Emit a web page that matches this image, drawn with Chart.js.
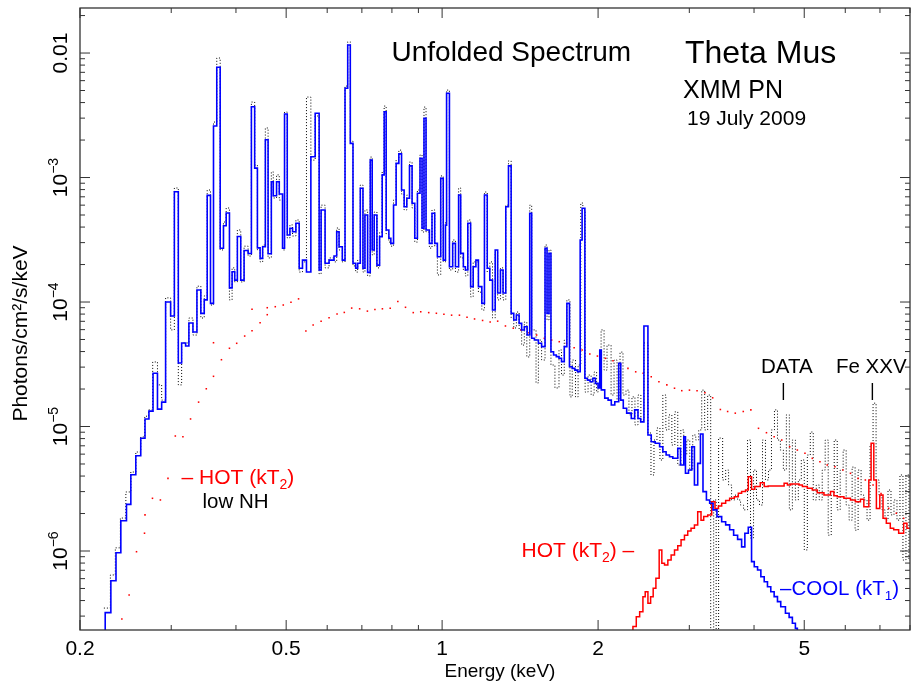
<!DOCTYPE html>
<html>
<head>
<meta charset="utf-8">
<script src="https://cdn.jsdelivr.net/npm/chart.js@4.4.1/dist/chart.umd.min.js"></script>
<style>html,body{margin:0;padding:0;background:#fff}canvas{display:block}</style>
</head>
<body>
<canvas id="spec" width="914" height="684"></canvas>
<script>
// ===================== DATA =====================
// total model (blue histogram, turns into the COOL component above ~2.5 keV): bin left edge (keV) / flux
const blueE=[0.2237,0.2237,0.2294,0.2347,0.2398,0.2459,0.2507,0.2563,0.2620,0.2670,
  0.2717,0.2767,0.2822,0.2875,0.2926,0.2992,0.3042,0.3096,0.3142,0.3198,
  0.3245,0.3304,0.3363,0.3422,0.3474,0.3520,0.3572,0.3620,0.3673,0.3729,
  0.3784,0.3830,0.3886,0.3932,0.3978,0.4025,0.4086,0.4147,0.4222,0.4284,
  0.4347,0.4400,0.4453,0.4504,0.4558,0.4614,0.4681,0.4722,0.4791,0.4849,
  0.4920,0.4964,0.5024,0.5084,0.5144,0.5221,0.5298,0.5376,0.5472,0.5580,
  0.5688,0.5789,0.5840,0.5944,0.6050,0.6185,0.6259,0.6325,0.6417,0.6495,
  0.6573,0.6649,0.6729,0.6810,0.6871,0.6951,0.7034,0.7096,0.7181,0.7265,
  0.7329,0.7395,0.7484,0.7574,0.7661,0.7729,0.7798,0.7892,0.7962,0.8058,
  0.8151,0.8250,0.8350,0.8446,0.8548,0.8650,0.8750,0.8855,0.8960,0.9064,
  0.9146,0.9226,0.9310,0.9450,0.9560,0.9676,0.9792,0.9938,1.005,1.015,
  1.020,1.033,1.048,1.061,1.076,1.086,1.099,1.109,1.121,1.135,
  1.148,1.162,1.175,1.193,1.207,1.222,1.236,1.251,1.266,1.280,
  1.296,1.311,1.327,1.343,1.359,1.375,1.391,1.408,1.424,1.441,
  1.459,1.476,1.489,1.507,1.534,1.556,1.580,1.594,1.608,1.622,
  1.641,1.661,1.681,1.700,1.721,1.741,1.761,1.783,1.804,1.825,
  1.847,1.863,1.886,1.907,1.930,1.954,1.976,2.000,2.015,2.029,
  2.060,2.091,2.121,2.154,2.192,2.212,2.237,2.271,2.318,2.353,
  2.388,2.417,2.452,2.496,2.533,2.578,2.629,2.667,2.706,2.747,
  2.788,2.850,2.885,2.927,2.949,2.989,3.033,3.069,3.114,3.152,
  3.188,3.237,3.284,3.333,3.392,3.464,3.526,3.589,3.653,3.718,
  3.785,3.840,3.899,3.956,4.004,4.063,4.123,4.185,4.246,4.309,
  4.374,4.439,4.504,4.599,4.675,4.743,4.807,4.849,4.914];
const blueF=[1.9e-7,3.2e-7,5.77e-7,9.69e-7,1.75e-6,2.37e-6,4.10e-6,5.83e-6,8.04e-6,1.15e-5,
  1.33e-5,2.68e-5,1.38e-5,1.57e-5,1.0e-4,7.72e-5,7.69e-4,3.24e-5,4.69e-5,4.43e-5,
  6.78e-5,5.74e-5,1.25e-4,8.11e-5,1.04e-4,7.19e-4,9.76e-5,2.59e-3,7.68e-3,2.70e-4,
  4.10e-4,5.19e-4,1.30e-4,1.75e-4,1.50e-4,3.36e-4,1.50e-4,2.59e-4,2.45e-4,3.70e-3,
  1.19e-3,2.72e-4,2.24e-4,2.78e-4,2.01e-3,2.44e-4,9.25e-4,7.14e-4,9.25e-4,7.37e-4,
  2.70e-4,3.24e-3,3.45e-4,3.91e-4,3.67e-4,4.29e-4,1.87e-4,2.17e-4,1.74e-4,1.47e-3,
  3.28e-3,1.81e-4,5.48e-4,2.05e-4,2.17e-4,2.34e-4,3.67e-4,2.78e-4,2.17e-4,5.21e-3,
  1.16e-2,1.88e-3,2.05e-4,1.87e-4,2.05e-4,8.19e-4,1.87e-4,5.00e-4,1.73e-4,1.38e-3,
  2.62e-4,5.00e-4,1.98e-4,3.35e-4,1.05e-3,3.38e-3,3.79e-4,3.25e-4,2.96e-4,6.01e-4,
  1.30e-3,1.55e-3,7.94e-4,5.83e-4,6.81e-4,1.24e-3,6.21e-4,3.25e-4,7.47e-4,1.43e-3,
  3.91e-4,2.99e-3,3.79e-4,2.96e-4,5.16e-4,2.96e-4,2.31e-4,9.85e-4,2.17e-4,4.15e-4,
  4.75e-3,1.92e-4,2.96e-4,1.92e-4,7.23e-4,2.46e-4,1.92e-4,1.81e-4,4.29e-4,1.33e-4,
  1.92e-4,2.17e-4,1.33e-4,9.76e-5,7.23e-4,1.87e-4,1.50e-4,8.62e-5,2.62e-4,1.18e-4,
  1.81e-4,1.18e-4,5.83e-4,1.24e-3,8.11e-5,7.17e-5,7.86e-5,6.74e-5,5.96e-5,6.33e-5,
  5.43e-5,5.16e-4,5.11e-5,4.95e-5,4.66e-5,4.38e-5,2.70e-4,8.11e-5,2.46e-4,3.99e-5,
  3.75e-5,3.64e-5,3.53e-5,3.32e-5,4.38e-5,9.76e-5,3.02e-5,2.93e-5,2.84e-5,2.76e-5,
  3.15e-4,5.66e-4,2.44e-5,2.36e-5,2.29e-5,2.44e-5,2.22e-5,2.04e-5,4.12e-5,1.97e-5,
  1.69e-5,1.63e-5,1.49e-5,1.58e-5,3.22e-5,1.63e-5,1.40e-5,1.28e-5,1.16e-5,1.36e-5,
  1.16e-5,1.09e-5,6.42e-5,8.55e-6,7.55e-6,7.33e-6,6.88e-6,6.27e-6,5.90e-6,5.72e-6,
  5.56e-6,6.68e-6,4.91e-6,8.28e-6,4.21e-6,4.47e-6,6.88e-6,3.39e-6,5.06e-6,8.71e-6,
  3.00e-6,2.57e-6,2.42e-6,2.14e-6,1.89e-6,1.72e-6,1.62e-6,1.48e-6,1.34e-6,1.24e-6,
  1.08e-6,1.39e-6,1.55e-6,8.21e-7,7.48e-7,7.04e-7,6.22e-7,5.67e-7,5.17e-7,4.71e-7,
  4.30e-7,3.92e-7,3.57e-7,3.16e-7,2.93e-7,2.63e-7,2.39e-7,1.9e-7,1.9e-7];

// unfolded data (black dotted histogram)
const dataE=[0.2224,0.2289,0.2340,0.2393,0.2452,0.2507,0.2563,0.2620,0.2667,0.2713,
  0.2763,0.2822,0.2875,0.2926,0.2992,0.3042,0.3096,0.3142,0.3198,0.3245,
  0.3304,0.3363,0.3422,0.3474,0.3520,0.3572,0.3620,0.3673,0.3729,0.3784,
  0.3830,0.3886,0.3932,0.3978,0.4025,0.4086,0.4147,0.4222,0.4284,0.4347,
  0.4400,0.4453,0.4504,0.4558,0.4614,0.4681,0.4722,0.4791,0.4849,0.4920,
  0.4964,0.5024,0.5084,0.5144,0.5221,0.5298,0.5376,0.5472,0.5580,0.5688,
  0.5789,0.5840,0.5944,0.6050,0.6185,0.6259,0.6325,0.6417,0.6495,0.6573,
  0.6649,0.6729,0.6810,0.6871,0.6951,0.7034,0.7096,0.7181,0.7265,0.7329,
  0.7395,0.7484,0.7574,0.7661,0.7729,0.7798,0.7892,0.7962,0.8058,0.8151,
  0.8250,0.8350,0.8446,0.8548,0.8650,0.8750,0.8855,0.8960,0.9064,0.9146,
  0.9226,0.9310,0.9450,0.9560,0.9676,0.9792,0.9938,1.005,1.015,1.020,
  1.033,1.048,1.061,1.076,1.086,1.099,1.109,1.121,1.135,1.148,
  1.162,1.175,1.193,1.207,1.222,1.236,1.251,1.266,1.280,1.296,
  1.311,1.327,1.343,1.359,1.375,1.391,1.408,1.424,1.441,1.457,
  1.476,1.489,1.518,1.534,1.556,1.580,1.594,1.608,1.622,1.651,
  1.681,1.700,1.721,1.741,1.765,1.783,1.809,1.830,1.852,1.869,
  1.888,1.913,1.939,1.965,1.987,2.000,2.027,2.054,2.081,2.119,
  2.147,2.176,2.205,2.234,2.264,2.294,2.325,2.356,2.388,2.419,
  2.452,2.496,2.530,2.564,2.598,2.633,2.667,2.703,2.740,2.776,
  2.813,2.850,2.889,2.927,2.966,3.006,3.046,3.087,3.128,3.170,
  3.212,3.255,3.299,3.343,3.380,3.417,3.479,3.526,3.572,3.620,
  3.668,3.718,3.767,3.818,3.886,3.938,3.991,4.044,4.098,4.153,
  4.208,4.265,4.322,4.380,4.439,4.497,4.557,4.618,4.680,4.743,
  4.807,4.870,4.935,5.001,5.069,5.136,5.204,5.274,5.344,5.416,
  5.488,5.562,5.637,5.712,5.789,5.866,5.944,6.024,6.104,6.186,
  6.268,6.352,6.437,6.523,6.610,6.699,6.789,6.880,6.972,7.065,
  7.159,7.255,7.352,7.450,7.550,7.651,7.753,7.857,7.962,8.034];
const dataF=[3.48e-7,6.42e-7,1.06e-6,1.84e-6,2.98e-6,4.31e-6,6.24e-6,8.24e-6,1.21e-5,1.36e-5,
  3.30e-5,2.16e-5,1.63e-5,1.08e-4,5.97e-5,8.24e-4,2.16e-5,4.69e-5,4.69e-5,7.44e-5,
  5.43e-5,1.34e-4,7.44e-5,1.12e-4,7.94e-4,9.46e-5,2.79e-3,9.12e-3,2.62e-4,4.39e-4,
  5.69e-4,1.04e-4,1.88e-4,1.45e-4,3.79e-4,1.45e-4,2.81e-4,2.34e-4,4.04e-3,1.26e-3,
  2.62e-4,2.10e-4,2.87e-4,2.50e-3,2.26e-4,1.11e-3,6.85e-4,1.05e-3,6.59e-4,2.62e-4,
  3.36e-3,3.27e-4,4.16e-4,3.39e-4,4.56e-4,1.74e-4,2.10e-4,4.43e-3,1.38e-3,3.12e-3,
  1.68e-4,6.00e-4,1.88e-4,2.26e-4,2.10e-4,3.93e-4,2.62e-4,2.10e-4,5.43e-3,1.23e-2,
  1.96e-3,1.95e-4,1.74e-4,2.17e-4,8.71e-4,1.74e-4,5.49e-4,1.62e-4,1.46e-3,2.39e-4,
  5.28e-4,1.88e-4,3.65e-4,1.11e-3,3.75e-3,3.52e-4,3.03e-4,2.81e-4,6.59e-4,1.38e-3,
  1.66e-3,7.37e-4,5.49e-4,7.23e-4,1.33e-3,5.69e-4,3.03e-4,7.94e-4,1.52e-3,3.65e-4,
  3.68e-3,3.65e-4,2.71e-4,5.49e-4,2.81e-4,1.65e-4,1.03e-3,2.10e-4,4.39e-4,5.04e-3,
  1.81e-4,3.15e-4,1.74e-4,8.24e-4,2.26e-4,1.81e-4,1.62e-4,4.56e-4,1.10e-4,2.10e-4,
  2.10e-4,1.20e-4,8.62e-5,7.65e-4,1.74e-4,2.10e-4,7.44e-5,2.52e-4,1.04e-4,1.88e-4,
  1.04e-4,6.00e-4,1.36e-3,7.44e-5,6.19e-5,8.31e-5,5.97e-5,4.51e-5,6.90e-5,3.62e-5,
  6.00e-4,5.97e-5,2.24e-5,4.95e-5,3.42e-5,2.87e-4,7.17e-5,2.62e-4,3.12e-5,2.04e-5,
  4.12e-5,2.59e-5,4.95e-5,1.04e-4,1.73e-5,3.42e-5,1.73e-5,3.12e-5,6.24e-4,5.49e-4,
  1.89e-5,2.59e-5,1.79e-5,2.74e-5,1.89e-5,2.16e-5,5.97e-5,2.84e-5,4.51e-5,1.79e-5,
  3.42e-5,1.63e-5,3.96e-5,1.79e-5,1.96e-5,1.24e-5,1.73e-5,1.03e-5,1.79e-5,1.13e-5,
  4.69e-5,8.87e-6,4.08e-6,7.79e-6,9.73e-6,5.38e-6,1.79e-5,9.39e-6,1.24e-5,7.10e-6,
  1.31e-5,4.91e-6,9.39e-6,5.90e-6,7.79e-6,4.47e-6,8.55e-6,7.79e-6,9.39e-6,1.96e-5,
  9.39e-6,1.79e-5,1.9e-7,2.57e-6,1.9e-7,8.08e-6,3.72e-6,4.47e-6,3.39e-6,2.57e-6,
  2.81e-6,2.57e-6,2.34e-6,2.14e-6,7.79e-6,1.27e-6,4.47e-6,2.57e-6,2.34e-6,7.79e-6,
  3.72e-6,4.47e-6,9.39e-6,1.36e-5,7.79e-6,6.47e-6,4.47e-6,1.24e-5,2.14e-6,7.79e-6,
  2.57e-6,3.72e-6,5.38e-6,1.02e-6,5.90e-6,9.03e-6,2.57e-6,3.39e-6,2.57e-6,4.47e-6,
  7.79e-6,1.34e-6,2.81e-6,7.79e-6,2.14e-6,4.47e-6,6.47e-6,2.34e-6,1.77e-6,4.72e-6,
  1.47e-6,4.47e-6,2.81e-6,2.57e-6,1.77e-6,7.10e-6,1.54e-5,3.72e-6,2.81e-6,2.14e-6,
  1.77e-6,3.09e-6,1.95e-6,2.57e-6,1.77e-6,4.08e-6,8.46e-7,4.08e-6,8.46e-7,8.46e-7];

// HOT (kT2) component, solid red histogram
const hotE=[2.335,2.335,2.370,2.406,2.441,2.466,2.496,2.526,2.555,2.586,
  2.624,2.655,2.687,2.727,2.767,2.809,2.850,2.892,2.936,2.979,
  3.023,3.069,3.114,3.160,3.198,3.256,3.314,3.363,3.414,3.464,
  3.526,3.589,3.664,3.730,3.785,3.852,3.899,3.956,4.014,4.112,
  4.185,4.259,4.572,4.640,4.707,4.886,4.959,5.069,5.182,5.298,
  5.458,5.619,5.705,5.789,5.964,6.140,6.278,6.419,6.516,6.662,
  6.730,6.811,6.890,6.995,7.096,7.201,7.329,7.441,7.607,7.778,
  7.892,8.034];
const hotF=[1.9e-7,2.47e-7,2.97e-7,3.25e-7,4.30e-7,4.71e-7,3.80e-7,4.30e-7,5.02e-7,6.04e-7,
  1.02e-6,7.96e-7,7.72e-7,8.47e-7,9.29e-7,1.02e-6,1.10e-6,1.23e-6,1.34e-6,1.45e-6,
  1.52e-6,1.62e-6,2.07e-6,1.77e-6,1.89e-6,1.95e-6,2.49e-6,2.20e-6,2.30e-6,2.42e-6,
  2.54e-6,2.65e-6,2.73e-6,2.91e-6,3.00e-6,3.09e-6,3.95e-6,3.13e-6,3.29e-6,3.54e-6,
  3.29e-6,3.33e-6,3.50e-6,3.39e-6,3.45e-6,3.39e-6,3.29e-6,3.19e-6,3.09e-6,2.94e-6,
  2.82e-6,3.00e-6,2.78e-6,2.73e-6,2.65e-6,2.57e-6,2.49e-6,2.60e-6,2.27e-6,3.72e-6,
  7.33e-6,3.72e-6,2.20e-6,2.82e-6,1.83e-6,1.67e-6,1.52e-6,1.48e-6,1.39e-6,1.67e-6,
  1.52e-6,1.52e-6];

// HOT (kT2) with low NH, red dots
const dotE=[0.2409,0.2488,0.2571,0.2664,0.2670,0.2760,0.2859,0.2957,0.3055,0.3160,
  0.3269,0.3388,0.3506,0.3620,0.3620,0.3750,0.3886,0.4013,0.4158,0.4296,
  0.4296,0.4453,0.4597,0.4597,0.4764,0.4936,0.5108,0.5283,0.5458,0.5637,
  0.5840,0.6050,0.6269,0.6474,0.6690,0.6931,0.7174,0.7418,0.7669,0.7939,
  0.8213,0.8498,0.8796,0.9093,0.9421,0.9748,1.008,1.043,1.080,1.117,
  1.155,1.197,1.238,1.280,1.325,1.372,1.420,1.471,1.522,1.575,
  1.627,1.683,1.738,1.798,1.863,1.928,1.994,2.066,2.137,2.210,
  2.284,2.364,2.444,2.533,2.621,2.715,2.809,2.901,3.002,3.105,
  3.216,3.328,3.444,3.557,3.680,3.813,3.944,4.080,4.227,4.374,
  4.524,4.686,4.849,5.016,5.182,5.361,5.538,5.730,5.936,6.140,
  6.352,6.560,6.789,7.034,7.276,7.527,7.778];
const dotF=[2.84e-7,4.43e-7,9.87e-7,1.39e-6,1.95e-6,2.65e-6,2.57e-6,3.83e-6,8.39e-6,8.28e-6,
  1.15e-5,1.57e-5,2.01e-5,2.53e-5,4.71e-5,3.44e-5,4.25e-5,4.66e-5,5.33e-5,5.88e-5,
  8.74e-5,6.81e-5,9.00e-5,7.91e-5,9.17e-5,9.46e-5,9.94e-5,1.06e-4,5.85e-5,6.53e-5,
  7.00e-5,7.48e-5,8.02e-5,8.25e-5,8.94e-5,8.82e-5,8.45e-5,8.71e-5,8.82e-5,8.90e-5,
  1.01e-4,9.07e-5,8.22e-5,8.35e-5,8.22e-5,8.12e-5,7.97e-5,7.84e-5,7.84e-5,7.54e-5,
  7.31e-5,7.11e-5,6.90e-5,7.02e-5,6.42e-5,6.16e-5,5.97e-5,5.67e-5,5.43e-5,5.11e-5,
  4.95e-5,4.80e-5,4.66e-5,4.29e-5,4.12e-5,3.82e-5,3.68e-5,3.53e-5,3.38e-5,3.15e-5,
  2.93e-5,2.75e-5,2.68e-5,2.51e-5,2.29e-5,2.16e-5,2.03e-5,1.94e-5,1.96e-5,1.94e-5,
  1.87e-5,1.70e-5,1.37e-5,1.32e-5,1.28e-5,1.32e-5,1.36e-5,9.67e-6,8.92e-6,8.28e-6,
  7.79e-6,6.88e-6,6.47e-6,6.10e-6,5.55e-6,5.21e-6,4.91e-6,4.75e-6,4.47e-6,4.21e-6,
  3.83e-6,3.72e-6,3.39e-6,2.90e-6,2.20e-6,2.01e-6,1.83e-6];

// axes
const xRange=[0.2,8.0];
const yRange=[2.32e-7,0.0230];
const xMajor=[0.2,0.5,1,2,5];
const xLabels=['0.2','0.5','1','2','5'];
const xMinor=[0.3,0.4,0.6,0.7,0.8,0.9,3,4,6,7,8];
const yMajor=[1e-2,1e-3,1e-4,1e-5,1e-6];
const yLabels=[['0.01',''],['10','\u22123'],['10','\u22124'],['10','\u22125'],['10','\u22126']];
// line marks for DATA / Fe XXV
const markE=[4.557,6.768];

const FONT='"Liberation Sans", Arial, Helvetica, sans-serif';
const pts=(xs,ys)=>xs.map((x,i)=>({x,y:ys[i]}));

// ===================== DRAW HELPERS =====================
function rich(ctx,parts,x,y,align){
  let w=0;
  parts.forEach(p=>{ctx.font=p[1]+'px '+FONT;w+=ctx.measureText(p[0]).width;});
  let cx=align==='center'?x-w/2:x;
  ctx.textAlign='left';ctx.textBaseline='alphabetic';
  parts.forEach(p=>{ctx.font=p[1]+'px '+FONT;ctx.fillText(p[0],cx,y+(p[2]||0));cx+=ctx.measureText(p[0]).width;});
}
function seg(ctx,x1,y1,x2,y2){ctx.beginPath();ctx.moveTo(x1,y1);ctx.lineTo(x2,y2);ctx.stroke();}

const frame={id:'frame',afterDraw(chart){
  const {ctx,chartArea:a,scales:{x,y}}=chart;
  ctx.save();
  ctx.strokeStyle='#333';ctx.lineWidth=1.3;
  ctx.strokeRect(a.left,a.top,a.right-a.left,a.bottom-a.top);
  ctx.lineWidth=1;
  xMajor.forEach(v=>{const p=x.getPixelForValue(v);seg(ctx,p,a.bottom,p,a.bottom-10);seg(ctx,p,a.top,p,a.top+10);});
  xMinor.forEach(v=>{const p=x.getPixelForValue(v);seg(ctx,p,a.bottom,p,a.bottom-5);seg(ctx,p,a.top,p,a.top+5);});
  yMajor.forEach(v=>{const p=y.getPixelForValue(v);seg(ctx,a.left,p,a.left+10,p);seg(ctx,a.right,p,a.right-10,p);});
  for(let d=-7;d<=-2;d++){for(let m=2;m<=9;m++){const v=m*Math.pow(10,d);
    if(v<yRange[0]||v>yRange[1])continue;const p=y.getPixelForValue(v);
    seg(ctx,a.left,p,a.left+5,p);seg(ctx,a.right,p,a.right-5,p);}}

  ctx.fillStyle='#000';
  // x tick labels
  ctx.font='21px '+FONT;ctx.textAlign='center';ctx.textBaseline='alphabetic';
  xMajor.forEach((v,i)=>ctx.fillText(xLabels[i],x.getPixelForValue(v),655));
  // y tick labels (rotated)
  yMajor.forEach((v,i)=>{
    const p=y.getPixelForValue(v);
    ctx.save();ctx.translate(67,p);ctx.rotate(-Math.PI/2);
    const parts=[[yLabels[i][0],21]];
    if(yLabels[i][1])parts.push([yLabels[i][1],14,-9]);
    rich(ctx,parts,0,0,'center');ctx.restore();
  });
  // axis titles
  rich(ctx,[['Energy (keV)',19]],500,677,'center');
  ctx.save();ctx.translate(26.5,333.5);ctx.rotate(-Math.PI/2);
  rich(ctx,[['Photons/cm\u00b2/s/keV',21]],0,0,'center');ctx.restore();

  // headings
  rich(ctx,[['Unfolded Spectrum',28]],391.5,61,'left');
  rich(ctx,[['Theta Mus',32]],685,63,'left');
  rich(ctx,[['XMM PN',25]],683,98,'left');
  rich(ctx,[['19 July 2009',21]],687,125,'left');

  // DATA / Fe XXV markers
  rich(ctx,[['DATA',20.5]],761,373,'left');
  rich(ctx,[['Fe XXV',20.5]],836,373,'left');
  ctx.strokeStyle='#000';ctx.lineWidth=1.4;
  markE.forEach(e=>{const p=x.getPixelForValue(e);seg(ctx,p,383,p,400);});

  // component labels
  ctx.fillStyle='#ff0000';
  rich(ctx,[['\u2013 HOT (kT',21],['2',14,5],[')',21]],181.5,484,'left');
  rich(ctx,[['HOT (kT',21],['2',14,5],[') \u2013',21]],521.5,557,'left');
  ctx.fillStyle='#000';
  rich(ctx,[['low NH',20.5]],202.5,508,'left');
  ctx.fillStyle='#0000ff';
  rich(ctx,[['\u2013COOL (kT',20.5],['1',13.5,5],[')',20.5]],780,595,'left');
  ctx.restore();
}};

// ===================== CHART =====================
new Chart(document.getElementById('spec'),{
  type:'line',
  data:{datasets:[
    {label:'COOL',data:pts(blueE,blueF),borderColor:'#0000ff',borderWidth:1.6,stepped:true,pointRadius:0,fill:false,order:0,clip:0},
    {label:'HOT',data:pts(hotE,hotF),borderColor:'#ff0000',borderWidth:1.5,stepped:true,pointRadius:0,fill:false,order:1,clip:0},
    {label:'HOT low NH',data:pts(dotE,dotF),showLine:false,pointStyle:'rect',pointRadius:1.1,
      pointBackgroundColor:'#ff0000',pointBorderColor:'#ff0000',pointBorderWidth:0,order:2,clip:0},
    {label:'DATA',data:pts(dataE,dataF),borderColor:'#000',borderWidth:1,borderDash:[1,2],stepped:true,pointRadius:0,fill:false,order:3,clip:0}
  ]},
  options:{
    responsive:false,animation:false,devicePixelRatio:1,
    layout:{padding:{top:8,right:1,left:0,bottom:0}},
    plugins:{legend:{display:false},tooltip:{enabled:false}},
    scales:{
      x:{type:'logarithmic',min:xRange[0],max:xRange[1],ticks:{display:false},grid:{display:false},border:{display:false},
         afterFit:s=>{s.height=54;}},
      y:{type:'logarithmic',min:yRange[0],max:yRange[1],ticks:{display:false},grid:{display:false},border:{display:false},
         afterFit:s=>{s.width=80;}}
    }
  },
  plugins:[frame]
});
</script>
</body>
</html>
